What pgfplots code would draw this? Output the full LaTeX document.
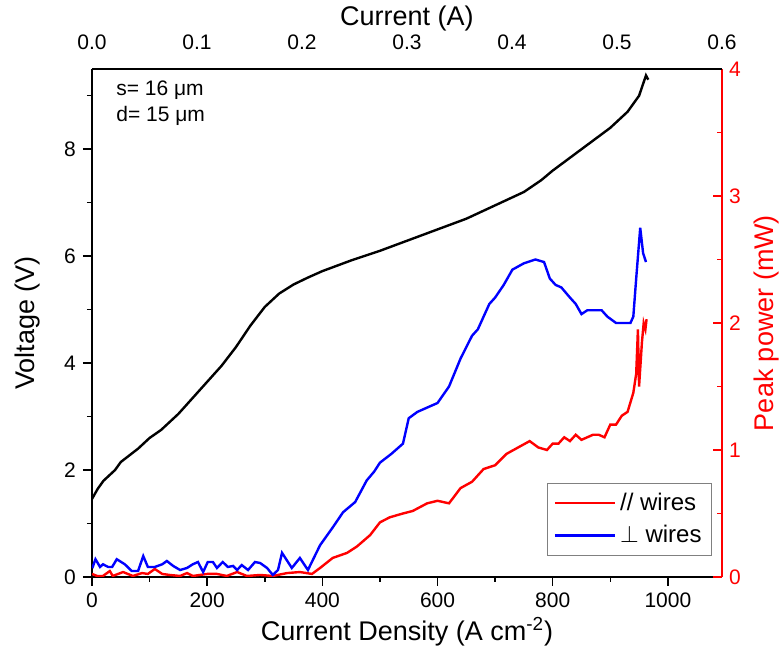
\documentclass[border=0pt]{standalone}
\usepackage{fontspec}
\setmainfont{Liberation Sans}
\usepackage{pgfplots}
\pgfplotsset{compat=1.18}

\begin{document}
\begin{tikzpicture}
\pgfplotsset{
  every axis/.append style={
    width=315pt, height=254pt, scale only axis,
    font=\fontsize{10.5}{12}\selectfont,
    /pgf/number format/assume math mode=true,
    /pgf/number format/1000 sep={},
    axis line style={line width=0.75pt},
    major tick length=4.5pt, minor tick length=2.5pt,
    every tick/.style={line width=0.75pt},
    label style={font=\fontsize{13.5}{15}\selectfont},
    xmin=0, xmax=1094,
  },
}
% Voltage vs current density
\begin{axis}[
  axis x line*=bottom, axis y line*=left,
  ymin=0, ymax=9.5,
  xtick={0,200,400,600,800,1000}, minor xtick={100,300,500,700,900},
  ytick={0,2,4,6,8}, minor ytick={1,3,5,7,9},
  tick align=outside,
  xlabel={Current Density (A cm\textsuperscript{-2})},
  ylabel={Voltage (V)},
  xlabel style={at={(axis description cs:0.5,-0.108)}, anchor=center},
  ylabel style={at={(axis description cs:-0.1016,0.5)}, anchor=center, rotate=0},
]
\addplot[black, line width=1.2pt] coordinates {
  (0,1.46) (10,1.65) (20,1.8) (40,2.0) (50,2.15) (80,2.4) (100,2.6)
  (120,2.75) (150,3.05) (175,3.35) (200,3.65) (225,3.95) (250,4.3)
  (275,4.7) (300,5.05) (325,5.3) (350,5.47) (375,5.6) (400,5.72)
  (450,5.92) (500,6.1) (550,6.3) (600,6.5) (650,6.7) (700,6.95)
  (750,7.2) (780,7.42) (800,7.6) (850,8.0) (900,8.4) (930,8.7)
  (950,9.0) (962,9.38) (966,9.3)
};
\node[anchor=west, inner sep=0pt, font=\fontsize{10.5}{12}\selectfont]
  at (axis description cs:0.038,0.958) {s= 16 μm};
\node[anchor=west, inner sep=0pt, font=\fontsize{10.5}{12}\selectfont]
  at (axis description cs:0.038,0.908) {d= 15 μm};
\end{axis}

% Peak power vs current density
\begin{axis}[
  axis x line=none, axis y line*=right,
  ymin=0, ymax=4,
  ytick={0,1,2,3,4}, minor ytick={0.5,1.5,2.5,3.5},
  tick align=inside,
  y axis line style={red},
  yticklabel style={red},
  ytick style={red},
  ylabel={Peak power (mW)},
  ylabel style={red, at={(axis description cs:1.07,0.5)}, anchor=center, rotate=0},
  legend style={at={(axis description cs:0.984,0.041)}, anchor=south east,
    draw=gray, font=\fontsize{12}{14}\selectfont, cells={anchor=west},
    inner sep=3pt, row sep=2pt},
  legend image code/.code={\draw[#1] (0pt,0pt) -- (30pt,0pt);},
]
\addplot[red, line width=1.2pt] coordinates {
  (0,0.024) (9,0.008) (19,0.008) (31,0.047) (36,0.008) (54,0.039)
  (71,0.008) (87,0.031) (97,0.024) (109,0.063) (122,0.024) (135,0.016)
  (153,0.008) (165,0.031) (175,0.008) (200,0.024) (217,0.024) (234,0.008)
  (252,0.039) (269,0.008) (292,0.016) (314,0.008) (339,0.031) (361,0.039)
  (382,0.024) (396,0.071) (418,0.15) (443,0.19) (460,0.24) (483,0.33)
  (500,0.43) (517,0.47) (540,0.50) (557,0.52) (582,0.58) (600,0.6)
  (620,0.58) (640,0.7) (660,0.75) (680,0.85) (700,0.88) (720,0.97)
  (740,1.02) (760,1.07) (775,1.02) (790,1.0) (800,1.05) (810,1.05)
  (820,1.1) (830,1.07) (840,1.12) (850,1.08) (860,1.1) (870,1.12)
  (880,1.12) (890,1.1) (900,1.2) (910,1.2) (920,1.27) (930,1.3)
  (940,1.45) (945,1.6) (948,1.95) (950,1.5) (955,1.85) (958,2.0)
  (961,1.95) (963,2.03)
};
\addlegendentry{// wires}
\addplot[blue, line width=1.2pt] coordinates {
  (0.5,0.069) (6,0.14) (14,0.079) (19,0.10) (28,0.079) (35,0.079)
  (43,0.14) (57,0.10) (69,0.047) (80,0.047) (89,0.165) (97,0.079)
  (109,0.079) (122,0.10) (130,0.126) (141,0.087) (153,0.055) (165,0.071)
  (175,0.10) (184,0.118) (193,0.039) (201,0.118) (210,0.118) (217,0.071)
  (227,0.118) (236,0.079) (245,0.087) (252,0.055) (260,0.094) (271,0.055)
  (283,0.118) (292,0.11) (304,0.071) (314,0.016) (323,0.055) (330,0.19)
  (347,0.071) (361,0.15) (375,0.055) (396,0.25) (418,0.39) (436,0.51)
  (457,0.59) (477,0.76) (490,0.83) (500,0.9) (520,0.97) (540,1.05)
  (550,1.25) (565,1.3) (580,1.33) (600,1.37) (620,1.5) (640,1.72)
  (660,1.9) (670,1.95) (680,2.05) (690,2.15) (700,2.2) (715,2.3)
  (730,2.42) (750,2.47) (770,2.5) (785,2.48) (795,2.35) (805,2.3)
  (815,2.28) (830,2.2) (840,2.15) (850,2.07) (860,2.1) (875,2.1)
  (885,2.1) (895,2.05) (910,2.0) (925,2.0) (935,2.0) (940,2.05)
  (945,2.35) (952,2.75) (957,2.55) (962,2.48)
};
\addlegendentry{$\perp$ wires}
\end{axis}

% Top current axis
\begin{axis}[
  axis x line*=top, axis y line=none,
  xmin=0, xmax=0.6, ymin=0, ymax=1,
  xtick={0,0.1,0.2,0.3,0.4,0.5,0.6},
  xtick style={draw=none},
  xticklabel style={yshift=6pt, /pgf/number format/.cd, fixed, fixed zerofill, precision=1},
  xlabel={Current (A)},
  xlabel style={at={(axis description cs:0.5,1.1)}, anchor=center},
]
\end{axis}
\pgfresetboundingbox
\path[use as bounding box] (-46pt,-35pt) rectangle (345.5pt,288.5pt);
\end{tikzpicture}
\end{document}
